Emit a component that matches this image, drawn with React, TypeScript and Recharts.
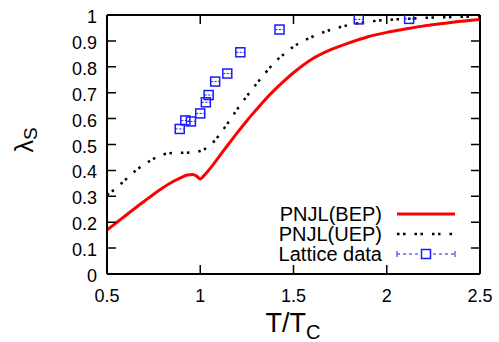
import React from 'react'
import { ComposedChart, Line, Scatter, XAxis, YAxis, ReferenceLine } from 'recharts'

// PNJL with the bounded effective potential (red, solid)
const bepT = [0.5, 0.55, 0.6, 0.65, 0.7, 0.75, 0.8, 0.85, 0.9, 0.93, 0.96, 0.98, 1.0, 1.02, 1.05, 1.1, 1.15, 1.2, 1.25, 1.3, 1.35, 1.4, 1.45, 1.5, 1.6, 1.7, 1.8, 1.9, 2.0, 2.1, 2.2, 2.3, 2.4, 2.5]
const bepL = [0.17, 0.198, 0.226, 0.254, 0.281, 0.308, 0.333, 0.355, 0.373, 0.382, 0.384, 0.378, 0.367, 0.38, 0.405, 0.452, 0.5, 0.547, 0.592, 0.634, 0.675, 0.712, 0.746, 0.777, 0.83, 0.866, 0.893, 0.916, 0.933, 0.946, 0.958, 0.967, 0.976, 0.983]

// PNJL with the unbounded effective potential (black, dotted)
const uepT = [0.5, 0.55, 0.6, 0.65, 0.7, 0.75, 0.8, 0.85, 0.9, 0.95, 1.0, 1.05, 1.1, 1.15, 1.2, 1.25, 1.3, 1.35, 1.4, 1.45, 1.5, 1.6, 1.7, 1.8, 1.9, 2.0, 2.1, 2.2, 2.3, 2.4, 2.5]
const uepL = [0.305, 0.332, 0.365, 0.397, 0.423, 0.445, 0.461, 0.467, 0.468, 0.469, 0.475, 0.495, 0.535, 0.585, 0.638, 0.687, 0.733, 0.777, 0.818, 0.85, 0.878, 0.916, 0.943, 0.962, 0.974, 0.981, 0.985, 0.989, 0.991, 0.993, 0.995]

// lattice points
const latT = [0.89, 0.92, 0.95, 1.0, 1.03, 1.045, 1.08, 1.145, 1.215, 1.425, 1.85, 2.12]
const latL = [0.56, 0.593, 0.589, 0.62, 0.663, 0.691, 0.743, 0.774, 0.856, 0.944, 0.983, 0.985]

const xTicks = [0.5, 1, 1.5, 2, 2.5]
const yTicks = [0, 0.1, 0.2, 0.3, 0.4, 0.5, 0.6, 0.7, 0.8, 0.9, 1]
const legendLabels = ['PNJL(BEP)', 'PNJL(UEP)', 'Lattice data']

const bep = bepT.map((t, i) => ({ t, v: bepL[i] }))
const uep = uepT.map((t, i) => ({ t, v: uepL[i] }))
const lat = latT.map((t, i) => ({ t, v: latL[i] }))

const W = 499
const H = 342
const M = { top: 15, right: 19, left: 0, bottom: 0 }
const PLOT_TOP = M.top
const PLOT_RIGHT = W - M.right
const TICK = 9

const FONT = '"Liberation Sans", Arial, sans-serif'
const BLUE = '#1a1aff'
const DOTS = '2.5 3.5 2.5 9'

function Box(props: any) {
  const { cx, cy } = props
  return (
    <g>
      <rect x={cx - 4.5} y={cy - 4.5} width={9} height={9} fill="none" stroke={BLUE} strokeWidth={1.5} />
      <line x1={cx - 4} x2={cx + 4} y1={cy} y2={cy} stroke={BLUE} strokeWidth={1} strokeDasharray="2 1.5" />
    </g>
  )
}

// bottom ticks: label below, tick marks inward at bottom and top
function XTick(props: any) {
  const { x, y, payload } = props
  return (
    <g>
      <path d={`M${x},${y}V${y - TICK}M${x},${PLOT_TOP}V${PLOT_TOP + TICK}`} stroke="#000" strokeWidth={1.5} fill="none" />
      <text x={x} y={y + 28} textAnchor="middle" fontSize={18} fontFamily={FONT} fill="#000">
        {String(payload.value)}
      </text>
    </g>
  )
}

// left ticks: label left, tick marks inward at left and right
function YTick(props: any) {
  const { x, y, payload } = props
  return (
    <g>
      <path d={`M${x},${y}H${x + TICK}M${PLOT_RIGHT},${y}H${PLOT_RIGHT - TICK}`} stroke="#000" strokeWidth={1.5} fill="none" />
      <text x={x - 10} y={y + 8} textAnchor="end" fontSize={18} fontFamily={FONT} fill="#000">
        {String(payload.value)}
      </text>
    </g>
  )
}

function LegendBox() {
  const ys = [14, 34, 54]
  return (
    <svg width={200} height={70} style={{ position: 'absolute', left: 270, top: 200 }}>
      {legendLabels.map((label, i) => (
        <text key={label} x={112} y={ys[i] + 7} textAnchor="end" fontSize={20} fontFamily={FONT} fill="#000">
          {label}
        </text>
      ))}
      <line x1={127} x2={185} y1={14} y2={14} stroke="#ff0000" strokeWidth={3} />
      <line x1={127} x2={185} y1={34} y2={34} stroke="#000" strokeWidth={2.5} strokeDasharray={DOTS} />
      <line x1={127} x2={185} y1={54} y2={54} stroke={BLUE} strokeWidth={1} strokeDasharray="3 3" />
      <line x1={127} x2={127} y1={51} y2={57} stroke={BLUE} strokeWidth={1} />
      <line x1={185} x2={185} y1={51} y2={57} stroke={BLUE} strokeWidth={1} />
      <rect x={151.5} y={49.5} width={9} height={9} fill="#fff" stroke={BLUE} strokeWidth={1.5} />
    </svg>
  )
}

function XLabel(props: any) {
  const { viewBox } = props
  const cx = viewBox.x + viewBox.width / 2
  return (
    <text x={cx - 28} y={332} fontSize={27} fontFamily={FONT} fill="#000">
      T/T
      <tspan fontSize={20} dy={7}>C</tspan>
    </text>
  )
}

function YLabel() {
  return (
    <text x={0} y={0} transform="translate(33,140) rotate(-90)" textAnchor="middle" fontSize={25} fontFamily={FONT} fill="#000">
      λ<tspan fontSize={19} dy={4}>S</tspan>
    </text>
  )
}

export default function App() {
  return (
    <div style={{ position: 'absolute', left: 0, top: 0, width: W, height: H, background: '#fff' }}>
      <ComposedChart width={W} height={H} margin={M}>
        <XAxis
          dataKey="t"
          type="number"
          domain={[0.5, 2.5]}
          ticks={xTicks}
          interval={0}
          allowDataOverflow
          tickSize={0}
          tickMargin={0}
          tickLine={false}
          height={68}
          tick={<XTick />}
          axisLine={{ stroke: '#000', strokeWidth: 2 }}
          label={<XLabel />}
        />
        <YAxis
          type="number"
          domain={[0, 1]}
          ticks={yTicks}
          interval={0}
          allowDataOverflow
          width={107}
          tickSize={0}
          tickMargin={0}
          tickLine={false}
          tick={<YTick />}
          axisLine={{ stroke: '#000', strokeWidth: 2 }}
          label={<YLabel />}
        />
        <ReferenceLine y={1} stroke="#000" strokeWidth={2} />
        <ReferenceLine x={2.5} stroke="#000" strokeWidth={2} />
        <Line data={uep} dataKey="v" type="monotone" stroke="#000" strokeWidth={2.5} strokeDasharray={DOTS} dot={false} isAnimationActive={false} />
        <Line data={bep} dataKey="v" type="monotone" stroke="#ff0000" strokeWidth={3} dot={false} isAnimationActive={false} />
        <Scatter data={lat} dataKey="v" shape={<Box />} isAnimationActive={false} />
      </ComposedChart>
      <LegendBox />
    </div>
  )
}
